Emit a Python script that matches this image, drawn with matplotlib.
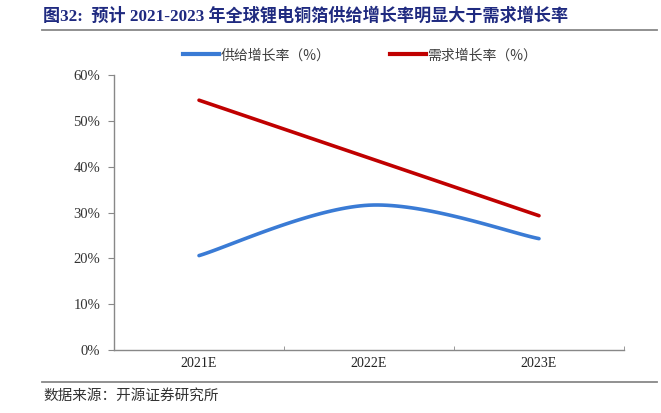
import numpy as np
import matplotlib
matplotlib.use("Agg")
import matplotlib.pyplot as plt
from matplotlib.lines import Line2D

plt.rcParams['font.family'] = ['Liberation Serif', 'Noto Sans CJK SC', 'DejaVu Sans']

# 数据
categories = ["2021E", "2022E", "2023E"]
supply = [20.6, 31.6, 24.3]   # 供给增长率 %
demand = [54.5, 41.9, 29.3]   # 需求增长率 %
yticks = [0, 10, 20, 30, 40, 50, 60]


def smooth(xs, ys, n=40):
    # Excel 风格平滑线 (Catmull-Rom -> Bezier)
    xs = np.asarray(xs, float)
    ys = np.asarray(ys, float)
    P = np.column_stack([xs, ys])
    P = np.vstack([P[0], P, P[-1]])
    out = []
    for i in range(1, len(P) - 2):
        p0, p1, p2, p3 = P[i - 1], P[i], P[i + 1], P[i + 2]
        c1 = p1 + (p2 - p0) / 6
        c2 = p2 - (p3 - p1) / 6
        t = np.linspace(0, 1, n)[:, None]
        seg = (1 - t) ** 3 * p1 + 3 * (1 - t) ** 2 * t * c1 + 3 * (1 - t) * t ** 2 * c2 + t ** 3 * p2
        out.append(seg if i == 1 else seg[1:])
    seg = np.vstack(out)
    return seg[:, 0], seg[:, 1]


fig = plt.figure(figsize=(6.61, 4.13), dpi=100)
ax = fig.add_axes([0.1725, 0.1525, 0.944 - 0.1725, 0.8184 - 0.1525])

x = np.arange(len(categories))
sx, sy = smooth(x, supply)
ax.plot(sx, sy, color='#3A7BD5', lw=2.6, solid_capstyle='round')
ax.plot(x, demand, color='#C00000', lw=2.6, solid_capstyle='round')

ax.set_xlim(-0.5, 2.5)
ax.set_ylim(0, 60)
ax.set_yticks(yticks)
ax.set_yticklabels([f"{v}%" for v in yticks], fontsize=10.5, color='#333333',
                   family='Liberation Serif')
ax.set_xticks(x)
ax.set_xticklabels(categories, fontsize=10, color='#222222', family='Liberation Serif')
ax.set_xticks([0.5, 1.5, 2.5], minor=True)
ax.tick_params(axis='x', which='major', length=0, pad=5)
ax.tick_params(axis='x', which='minor', direction='in', length=3, color='#888888')
ax.tick_params(axis='y', direction='out', length=4, color='#888888', pad=6)

for s in ['top', 'right']:
    ax.spines[s].set_visible(False)
for s in ['left', 'bottom']:
    ax.spines[s].set_color('#888888')
    ax.spines[s].set_linewidth(1)

handles = [Line2D([], [], color='#3A7BD5', lw=3),
           Line2D([], [], color='#C00000', lw=3)]
fig.legend(handles, ["供给增长率（%）", "需求增长率（%）"], loc='center',
           bbox_to_anchor=(0.545, 0.866), ncol=2, frameon=False,
           prop={'family': ['Noto Sans CJK SC'], 'size': 10},
           labelcolor='#404040', handlelength=2.6, handletextpad=0.1,
           columnspacing=4.3)

# 标题
fig.text(43 / 661, 1 - 16 / 413, "图32:  预计 2021-2023 年全球锂电铜箔供给增长率明显大于需求增长率",
         fontsize=12.3, fontweight='bold', color='#1F2A80', va='center', ha='left')
fig.add_artist(Line2D([42 / 661, 657 / 661], [1 - 30 / 413, 1 - 30 / 413],
                      color='#888888', lw=1.3))
fig.add_artist(Line2D([42 / 661, 657 / 661], [1 - 382 / 413, 1 - 382 / 413],
                      color='#888888', lw=1.3))
fig.text(43 / 661, 1 - 396 / 413, "数据来源：开源证券研究所", fontsize=10.5,
         color='#333333', va='center', ha='left', family=['Noto Sans CJK SC'])

fig.savefig('out.png', dpi=100)
